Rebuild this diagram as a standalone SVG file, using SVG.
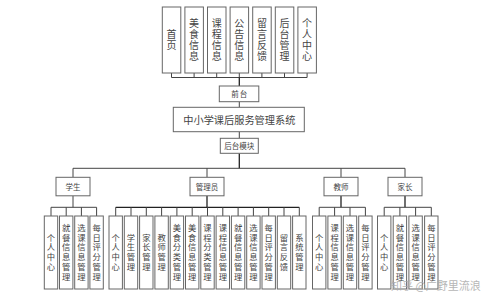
<svg xmlns="http://www.w3.org/2000/svg" width="499" height="294" viewBox="0 0 499 294">
<style>
rect{fill:#fff;stroke:#666;stroke-width:1}
text{font-family:"Noto Sans CJK SC","Noto Sans CJK JP",sans-serif;fill:#444;text-anchor:middle;dominant-baseline:central}
.v{writing-mode:vertical-rl;text-orientation:upright}
.t{font-size:10px;letter-spacing:1px}
.l{font-size:8.3px;letter-spacing:1.5px}
.r{font-size:7.5px}
.c line{stroke:#444;stroke-width:1;fill:none}
.c .k{stroke:#222;stroke-width:1.3}
</style>
<rect x="0" y="0" width="499" height="294" style="fill:#fff;stroke:none"/>
<g class="c" id="connectors">
<line x1="171.5" y1="73" x2="171.5" y2="77.5"/><line x1="194.1" y1="73" x2="194.1" y2="77.5"/><line x1="216.7" y1="73" x2="216.7" y2="77.5"/><line x1="239.3" y1="73" x2="239.3" y2="77.5"/><line x1="261.9" y1="73" x2="261.9" y2="77.5"/><line x1="284.5" y1="73" x2="284.5" y2="77.5"/><line x1="307.1" y1="73" x2="307.1" y2="77.5"/>
<line x1="171.5" y1="77.5" x2="307.1" y2="77.5"/>
<line class="k" x1="239.3" y1="77.5" x2="239.3" y2="86"/>
<line x1="239.3" y1="101.7" x2="239.3" y2="107.3"/>
<line x1="239.3" y1="131.7" x2="239.3" y2="138.3"/>
<line class="k" x1="239.3" y1="153.3" x2="239.3" y2="168.3"/>
<line x1="73" y1="168.3" x2="405" y2="168.3"/>
<line x1="73" y1="168.3" x2="73" y2="177.3"/><line x1="207" y1="168.3" x2="207" y2="177.3"/><line x1="341" y1="168.3" x2="341" y2="177.3"/><line x1="405" y1="168.3" x2="405" y2="177.3"/>
<line x1="73" y1="195.8" x2="73" y2="207.3"/>
<line class="k" x1="207" y1="195.8" x2="207" y2="207.3"/>
<line class="k" x1="341" y1="195.8" x2="341" y2="207.3"/>
<line class="k" x1="405" y1="195.8" x2="405" y2="207.3"/>
<line x1="51" y1="207.3" x2="96.6" y2="207.3"/>
<line x1="51" y1="207.3" x2="51" y2="216"/><line x1="66.2" y1="207.3" x2="66.2" y2="216"/><line x1="81.4" y1="207.3" x2="81.4" y2="216"/><line x1="96.6" y1="207.3" x2="96.6" y2="216"/>
<line class="k" x1="115.7" y1="207.3" x2="299.3" y2="207.3"/>
<line x1="115.7" y1="207.3" x2="115.7" y2="216"/><line x1="131" y1="207.3" x2="131" y2="216"/><line x1="146.3" y1="207.3" x2="146.3" y2="216"/><line x1="161.6" y1="207.3" x2="161.6" y2="216"/><line x1="176.9" y1="207.3" x2="176.9" y2="216"/><line x1="192.2" y1="207.3" x2="192.2" y2="216"/><line x1="207.5" y1="207.3" x2="207.5" y2="216"/><line x1="222.8" y1="207.3" x2="222.8" y2="216"/><line x1="238.1" y1="207.3" x2="238.1" y2="216"/><line x1="253.4" y1="207.3" x2="253.4" y2="216"/><line x1="268.7" y1="207.3" x2="268.7" y2="216"/><line x1="284" y1="207.3" x2="284" y2="216"/><line x1="299.3" y1="207.3" x2="299.3" y2="216"/>
<line x1="319.2" y1="207.3" x2="365.4" y2="207.3"/>
<line x1="319.2" y1="207.3" x2="319.2" y2="216"/><line x1="334.6" y1="207.3" x2="334.6" y2="216"/><line x1="350" y1="207.3" x2="350" y2="216"/><line x1="365.4" y1="207.3" x2="365.4" y2="216"/>
<line x1="384.2" y1="207.3" x2="431.3" y2="207.3"/>
<line x1="384.2" y1="207.3" x2="384.2" y2="216"/><line x1="399.9" y1="207.3" x2="399.9" y2="216"/><line x1="415.6" y1="207.3" x2="415.6" y2="216"/><line x1="431.3" y1="207.3" x2="431.3" y2="216"/>
</g>

<g id="n-shouye"><rect x="162.3" y="7" width="18.5" height="66"/><text class="v t" x="171.5" y="40.5">首页</text></g>
<g id="n-meishi"><rect x="184.9" y="7" width="18.5" height="66"/><text class="v t" x="194.1" y="40.5">美食信息</text></g>
<g id="n-kecheng"><rect x="207.5" y="7" width="18.5" height="66"/><text class="v t" x="216.7" y="40.5">课程信息</text></g>
<g id="n-gonggao"><rect x="230.1" y="7" width="18.5" height="66"/><text class="v t" x="239.3" y="40.5">公告信息</text></g>
<g id="n-liuyan"><rect x="252.7" y="7" width="18.5" height="66"/><text class="v t" x="261.9" y="40.5">留言反馈</text></g>
<g id="n-houtai"><rect x="275.3" y="7" width="18.5" height="66"/><text class="v t" x="284.5" y="40.5">后台管理</text></g>
<g id="n-geren"><rect x="297.9" y="7" width="18.5" height="66"/><text class="v t" x="307.1" y="40.5">个人中心</text></g>

<g id="n-qiantai"><rect x="219.3" y="86" width="39.5" height="15.7"/><text class="r" x="239.8" y="93.9" style="letter-spacing:1px">前台</text></g>
<g id="n-system"><rect x="173.3" y="107.3" width="131" height="24.4"/><text x="239.3" y="119.7" style="font-size:10.2px">中小学课后服务管理系统</text></g>
<g id="n-houtaimokuai"><rect x="220.3" y="138.3" width="38" height="15"/><text class="r" x="239.3" y="145.9">后台模块</text></g>

<g id="n-xuesheng"><rect x="56" y="177.3" width="34" height="18.5"/><text class="r" x="73" y="186.6">学生</text></g>
<g id="n-guanliyuan"><rect x="190" y="177.3" width="34" height="18.5"/><text class="r" x="207" y="186.6">管理员</text></g>
<g id="n-jiaoshi"><rect x="324" y="177.3" width="34" height="18.5"/><text class="r" x="341" y="186.6">教师</text></g>
<g id="n-jiazhang"><rect x="388" y="177.3" width="34" height="18.5"/><text class="r" x="405" y="186.6">家长</text></g>

<g id="s1"><rect x="44.3" y="216" width="13.4" height="73"/><text class="v l" x="51" y="253">个人中心</text></g>
<g id="s2"><rect x="59.5" y="216" width="13.4" height="73"/><text class="v l" x="66.2" y="253">就餐信息管理</text></g>
<g id="s3"><rect x="74.7" y="216" width="13.4" height="73"/><text class="v l" x="81.4" y="253">选课信息管理</text></g>
<g id="s4"><rect x="89.9" y="216" width="13.4" height="73"/><text class="v l" x="96.6" y="253">每日评分管理</text></g>

<g id="a1"><rect x="109" y="216" width="13.4" height="73"/><text class="v l" x="115.7" y="253">个人中心</text></g>
<g id="a2"><rect x="124.3" y="216" width="13.4" height="73"/><text class="v l" x="131" y="253">学生管理</text></g>
<g id="a3"><rect x="139.6" y="216" width="13.4" height="73"/><text class="v l" x="146.3" y="253">家长管理</text></g>
<g id="a4"><rect x="154.9" y="216" width="13.4" height="73"/><text class="v l" x="161.6" y="253">教师管理</text></g>
<g id="a5"><rect x="170.2" y="216" width="13.4" height="73"/><text class="v l" x="176.9" y="253">美食分类管理</text></g>
<g id="a6"><rect x="185.5" y="216" width="13.4" height="73"/><text class="v l" x="192.2" y="253">美食信息管理</text></g>
<g id="a7"><rect x="200.8" y="216" width="13.4" height="73"/><text class="v l" x="207.5" y="253">课程分类管理</text></g>
<g id="a8"><rect x="216.1" y="216" width="13.4" height="73"/><text class="v l" x="222.8" y="253">课程信息管理</text></g>
<g id="a9"><rect x="231.4" y="216" width="13.4" height="73"/><text class="v l" x="238.1" y="253">就餐信息管理</text></g>
<g id="a10"><rect x="246.7" y="216" width="13.4" height="73"/><text class="v l" x="253.4" y="253">选课信息管理</text></g>
<g id="a11"><rect x="262" y="216" width="13.4" height="73"/><text class="v l" x="268.7" y="253">每日评分管理</text></g>
<g id="a12"><rect x="277.3" y="216" width="13.4" height="73"/><text class="v l" x="284" y="253">留言反馈</text></g>
<g id="a13"><rect x="292.6" y="216" width="13.4" height="73"/><text class="v l" x="299.3" y="253">系统管理</text></g>

<g id="t1"><rect x="312.5" y="216" width="13.4" height="73"/><text class="v l" x="319.2" y="253">个人中心</text></g>
<g id="t2"><rect x="327.9" y="216" width="13.4" height="73"/><text class="v l" x="334.6" y="253">课程信息管理</text></g>
<g id="t3"><rect x="343.3" y="216" width="13.4" height="73"/><text class="v l" x="350" y="253">选课信息管理</text></g>
<g id="t4"><rect x="358.7" y="216" width="13.4" height="73"/><text class="v l" x="365.4" y="253">每日评分管理</text></g>

<g id="p1"><rect x="377.5" y="216" width="13.4" height="73"/><text class="v l" x="384.2" y="253">个人中心</text></g>
<g id="p2"><rect x="393.2" y="216" width="13.4" height="73"/><text class="v l" x="399.9" y="253">就餐信息管理</text></g>
<g id="p3"><rect x="408.9" y="216" width="13.4" height="73"/><text class="v l" x="415.6" y="253">选课信息管理</text></g>
<g id="p4"><rect x="424.6" y="216" width="13.4" height="73"/><text class="v l" x="431.3" y="253">每日评分管理</text></g>

<text x="391" y="285" style="font-size:11px;fill:#aaa;text-anchor:start;opacity:0.85">知乎 @广野里流浪</text>
</svg>
